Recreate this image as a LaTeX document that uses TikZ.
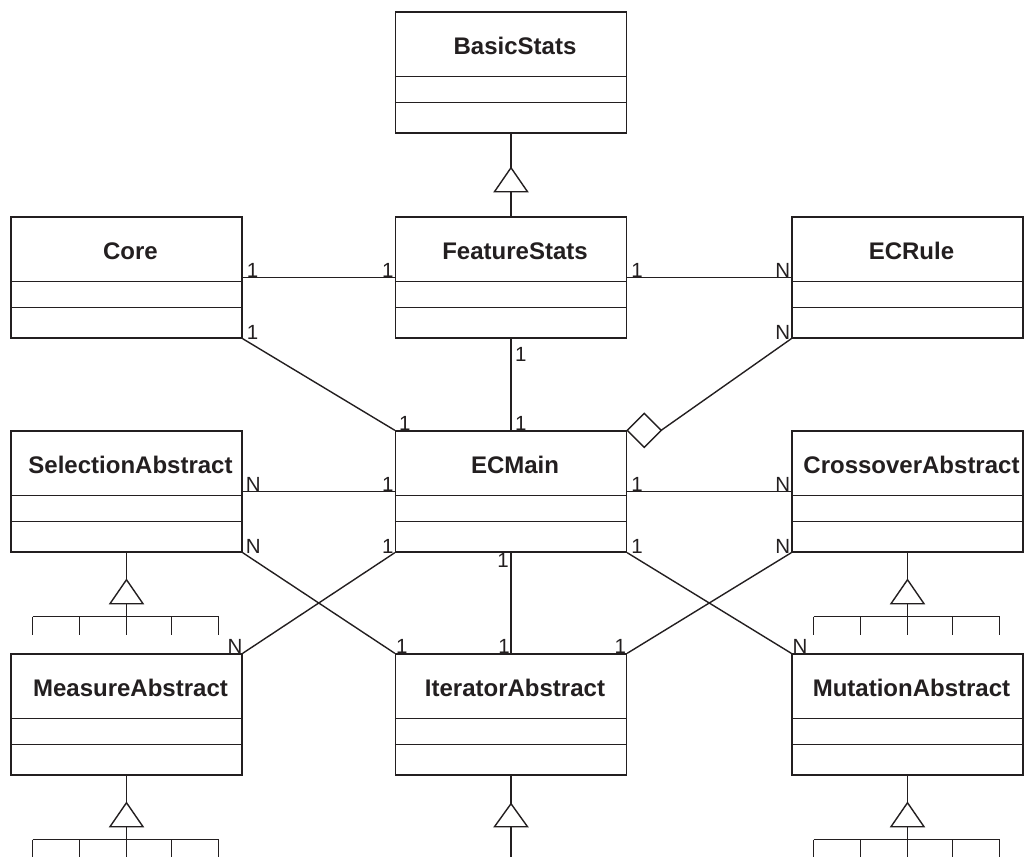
\documentclass[tikz,border=0pt]{standalone}
\usepackage{fontspec}
\setmainfont{Liberation Sans}
\definecolor{ink}{HTML}{231F20}
\tikzset{
  conn/.style={draw=ink, line width=1.4pt},
  classbox/.style={draw=ink, line width=1.4pt, fill=white, inner sep=0pt,
                   minimum width=231pt, minimum height=121pt},
  ctitle/.style={text=ink, inner sep=0pt, font=\fontsize{24}{24}\selectfont\bfseries},
  mult/.style={text=ink, inner sep=0pt, font=\fontsize{20.5}{20.5}\selectfont},
}
% a UML class: name, centre x, top y, title
\newcommand\umlclass[4]{%
  \node[classbox] (#1) at (#2,#3+60.5) {};
  \node[ctitle] (#1-t) at ([xshift=4pt,yshift=-35pt]#1.north) {#4};
  \draw[conn] ([yshift=-65pt]#1.north west) -- ([yshift=-65pt]#1.north east);
  \draw[conn] ([yshift=-91pt]#1.north west) -- ([yshift=-91pt]#1.north east);
}
% generalization with a fan of five subclasses below a class
\newcommand\subfan[1]{%
  \coordinate (#1-bar) at ([yshift=-64pt]#1.south);
  \draw[conn] (#1.south) -- (#1-bar);
  \draw[conn] ([xshift=-94pt]#1-bar) -- ([xshift=92pt]#1-bar);
  \foreach \dx in {-94,-47,0,45,92}
    \draw[conn] ([xshift=\dx pt]#1-bar) -- ++(0,18);
  \draw[conn, fill=white, line join=miter] ([yshift=-27pt]#1.south) -- ++(-16.5,24) -- ++(33,0) -- cycle;
}
\begin{document}
\begin{tikzpicture}[x=1pt, y=-1pt]
\useasboundingbox (0,0) rectangle (1026,857);

% classes
\umlclass{basic}{511}{12}{BasicStats}
\umlclass{core}{126.5}{217}{Core}
\umlclass{feat}{511}{217}{FeatureStats}
\umlclass{rule}{907.5}{217}{ECRule}
\umlclass{sel}{126.5}{431}{SelectionAbstract}
\umlclass{main}{511}{431}{ECMain}
\umlclass{cross}{907.5}{431}{CrossoverAbstract}
\umlclass{meas}{126.5}{654}{MeasureAbstract}
\umlclass{iter}{511}{654}{IteratorAbstract}
\umlclass{mut}{907.5}{654}{MutationAbstract}

% FeatureStats specialises BasicStats
\draw[conn] (feat.north) -- (basic.south);
\draw[conn, fill=white, line join=miter] ([yshift=-34pt]basic.south) -- ++(-16.5,24) -- ++(33,0) -- cycle;

% associations on the upper rows
\draw[conn] ([yshift=-61pt]core.north east) -- ([yshift=-61pt]feat.north west);
\draw[conn] ([yshift=-61pt]feat.north east) -- ([yshift=-61pt]rule.north west);
\draw[conn] (core.south east) -- (main.north west);
\draw[conn] (feat.south) -- (main.north);
\draw[conn] ([yshift=-61pt]sel.north east) -- ([yshift=-61pt]main.north west);
\draw[conn] ([yshift=-61pt]main.north east) -- ([yshift=-61pt]cross.north west);

% aggregation of ECRule into ECMain
\coordinate (dia) at ([xshift=34pt]main.north east);
\draw[conn] (rule.south west) -- (dia);
\draw[conn, fill=white, line join=miter] (main.north east) -- ++(17,-17) -- (dia) -- ++(-17,17) -- cycle;

% associations to the bottom row
\draw[conn] (sel.south east) -- (iter.north west);
\draw[conn] (main.south west) -- (meas.north east);
\draw[conn] (main.south) -- (iter.north);
\draw[conn] (main.south east) -- (mut.north west);
\draw[conn] (cross.south west) -- (iter.north east);

% subclass fans
\subfan{sel}
\subfan{cross}
\subfan{meas}
\subfan{mut}
\draw[conn] (iter.south) -- ++(0,82);
\draw[conn, fill=white, line join=miter] ([yshift=-28pt]iter.south) -- ++(-16.5,23) -- ++(33,0) -- cycle;

% multiplicities
\node[mult, anchor=base west] (m1) at ([xshift=4pt,yshift=-61pt]core.north east) {1};
\node[mult, anchor=base east] (m2) at ([xshift=-1pt,yshift=-61pt]feat.north west) {1};
\node[mult, anchor=base west] (m3) at ([xshift=4pt,yshift=-61pt]feat.north east) {1};
\node[mult, anchor=base east] (m4) at ([xshift=-1pt,yshift=-61pt]rule.north west) {N};
\node[mult, anchor=base west] (m5) at ([xshift=4pt,yshift=-1pt]core.south east) {1};
\node[mult, anchor=base east] (m6) at ([xshift=-1pt,yshift=-1pt]rule.south west) {N};
\node[mult, anchor=base west] (m7) at ([xshift=4pt,yshift=-23pt]feat.south) {1};
\node[mult, anchor=base west] (m8) at ([xshift=4pt]main.north) {1};
\node[mult, anchor=base west] (m9) at ([xshift=4pt]main.north west) {1};
\node[mult, anchor=base west] (m10) at ([xshift=3pt,yshift=-61pt]sel.north east) {N};
\node[mult, anchor=base east] (m11) at ([xshift=-1pt,yshift=-61pt]main.north west) {1};
\node[mult, anchor=base west] (m12) at ([xshift=4pt,yshift=-61pt]main.north east) {1};
\node[mult, anchor=base east] (m13) at ([xshift=-1pt,yshift=-61pt]cross.north west) {N};
\node[mult, anchor=base west] (m14) at ([xshift=3pt,yshift=-1pt]sel.south east) {N};
\node[mult, anchor=base east] (m15) at ([xshift=-1pt,yshift=-1pt]main.south west) {1};
\node[mult, anchor=base west] (m16) at ([xshift=4pt,yshift=-1pt]main.south east) {1};
\node[mult, anchor=base east] (m17) at ([xshift=-1pt,yshift=-1pt]cross.south west) {N};
\node[mult, anchor=base east] (m18) at ([xshift=-2pt,yshift=-15pt]main.south) {1};
\node[mult, anchor=base east] (m19) at (meas.north east) {N};
\node[mult, anchor=base west] (m20) at ([xshift=1pt]iter.north west) {1};
\node[mult, anchor=base east] (m21) at ([xshift=-1pt]iter.north) {1};
\node[mult, anchor=base east] (m22) at ([xshift=-1pt]iter.north east) {1};
\node[mult, anchor=base west] (m23) at ([xshift=1pt]mut.north west) {N};
\end{tikzpicture}
\end{document}
